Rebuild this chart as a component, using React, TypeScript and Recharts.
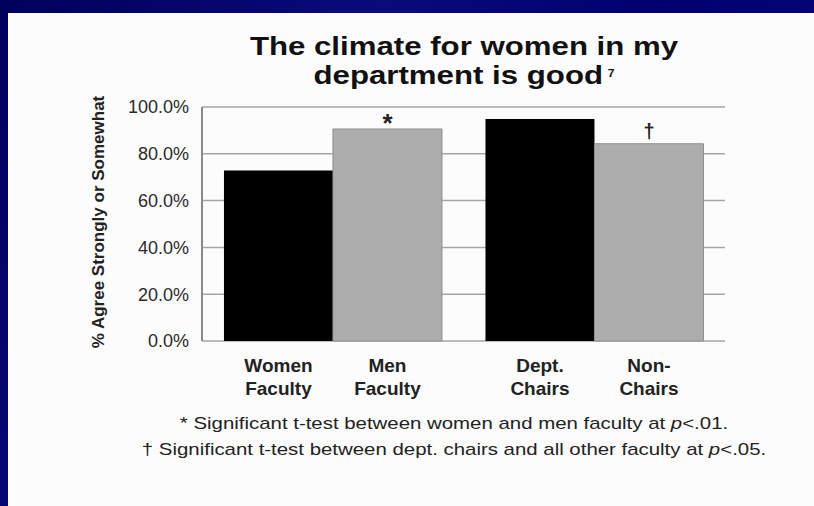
import React from 'react';
import { BarChart, Bar, XAxis, YAxis, CartesianGrid, LabelList } from 'recharts';

const groups = ['Faculty', 'Chairs'];
const blackValues = [72.9, 94.9];
const grayValues = [90.6, 84.3];
const blackNames = [['Women', 'Faculty'], ['Dept.', 'Chairs']];
const grayNames = [['Men', 'Faculty'], ['Non-', 'Chairs']];
const grayMarks = ['*', '\u2020'];
const yTicks = [0, 20, 40, 60, 80, 100];

const data = groups.map((g, i) => ({
  group: g,
  black: blackValues[i],
  gray: grayValues[i],
  mark: grayMarks[i],
}));

const FONT = '"Liberation Sans", Arial, Helvetica, sans-serif';

// two-line category name drawn under each bar
const nameLabel = (names: string[][]) => (props: any) => {
  const { x, y, width, height, index } = props;
  const cx = Number(x) + Number(width) / 2;
  const bottom = Number(y) + Number(height);
  const lines = names[index] || [];
  return (
    <text textAnchor="middle" fontFamily={FONT} fontWeight="bold" fontSize={19} fill="#222">
      <tspan x={cx} y={bottom + 31}>{lines[0]}</tspan>
      <tspan x={cx} y={bottom + 54}>{lines[1]}</tspan>
    </text>
  );
};

// significance marks above the gray bars
const markLabel = (props: any) => {
  const { x, y, width, value } = props;
  const cx = Number(x) + Number(width) / 2;
  const star = value === '*';
  return (
    <text
      x={cx}
      y={Number(y) - (star ? -3 : 6)}
      textAnchor="middle"
      fontFamily={FONT}
      fontWeight="bold"
      fontSize={star ? 26 : 20}
      fill="#222"
    >
      {value}
    </text>
  );
};

export default function App() {
  return (
    <div
      style={{
        position: 'absolute',
        left: 0,
        top: 0,
        width: 814,
        height: 506,
        overflow: 'hidden',
        fontFamily: FONT,
        background: 'linear-gradient(120deg, #00005c 0%, #0a0a7c 35%, #000070 60%, #0c0c84 100%)',
      }}
    >
      <div style={{ position: 'absolute', left: 8, top: 13, width: 806, height: 493, background: '#fcfcfc' }} />

      <div
        style={{
          position: 'absolute',
          left: 164,
          top: 32,
          width: 600,
          textAlign: 'center',
          fontSize: 26,
          lineHeight: '29px',
          fontWeight: 'bold',
          color: '#111',
          transform: 'scaleX(1.2)',
        }}
      >
        The climate for women in my
        <br />
        department is good
        <sup style={{ fontSize: 10, verticalAlign: 'top', marginLeft: 4, position: 'relative', top: -2 }}>7</sup>
      </div>

      <div style={{ position: 'absolute', left: 0, top: 0 }}>
        <BarChart
          width={814}
          height={420}
          data={data}
          margin={{ top: 107, right: 89, left: 0, bottom: 79 }}
          barCategoryGap="8.4%"
          barGap={0}
        >
          <CartesianGrid vertical={false} stroke="#a6a6a6" strokeWidth={1.5} />
          <XAxis dataKey="group" hide />
          <YAxis
            width={202}
            domain={[0, 100]}
            ticks={yTicks}
            tickLine={false}
            tickSize={0}
            tickMargin={13}
            axisLine={{ stroke: '#8a8a8a', strokeWidth: 2 }}
            tickFormatter={(v: number) => `${v.toFixed(1)}%`}
            tick={{ fontFamily: FONT, fontSize: 18, fill: '#2a2a2a' }}
            label={{
              content: (p: any) => {
                const vb = p.viewBox || {};
                const cy = Number(vb.y) + Number(vb.height) / 2 - 2;
                return (
                  <text
                    x={98}
                    y={cy}
                    transform={`rotate(-90 98 ${cy})`}
                    textAnchor="middle"
                    dominantBaseline="central"
                    fontFamily={FONT}
                    fontWeight="bold"
                    fontSize={17}
                    fill="#222"
                  >
                    % Agree Strongly or Somewhat
                  </text>
                );
              },
            }}
          />
          <YAxis
            yAxisId="r"
            orientation="right"
            width={0}
            domain={[0, 100]}
            tick={false}
            tickLine={false}
            axisLine={{ stroke: '#8a8a8a', strokeWidth: 2 }}
          />
          <Bar dataKey="black" fill="#000000" isAnimationActive={false}>
            <LabelList dataKey="black" content={nameLabel(blackNames)} />
          </Bar>
          <Bar dataKey="gray" fill="#adadad" stroke="#8e8e8e" strokeWidth={1} isAnimationActive={false}>
            <LabelList dataKey="gray" content={nameLabel(grayNames)} />
            <LabelList dataKey="mark" content={markLabel} />
          </Bar>
        </BarChart>
      </div>

      <div
        style={{
          position: 'absolute',
          left: 154,
          top: 411,
          width: 600,
          textAlign: 'center',
          fontSize: 17,
          lineHeight: '26px',
          color: '#222',
          whiteSpace: 'nowrap',
          transform: 'scaleX(1.2)',
        }}
      >
        <div>
          * Significant t-test between women and men faculty at <i>p</i>&lt;.01.
        </div>
        <div>
          {'\u2020'} Significant t-test between dept. chairs and all other faculty at <i>p</i>&lt;.05.
        </div>
      </div>
    </div>
  );
}
